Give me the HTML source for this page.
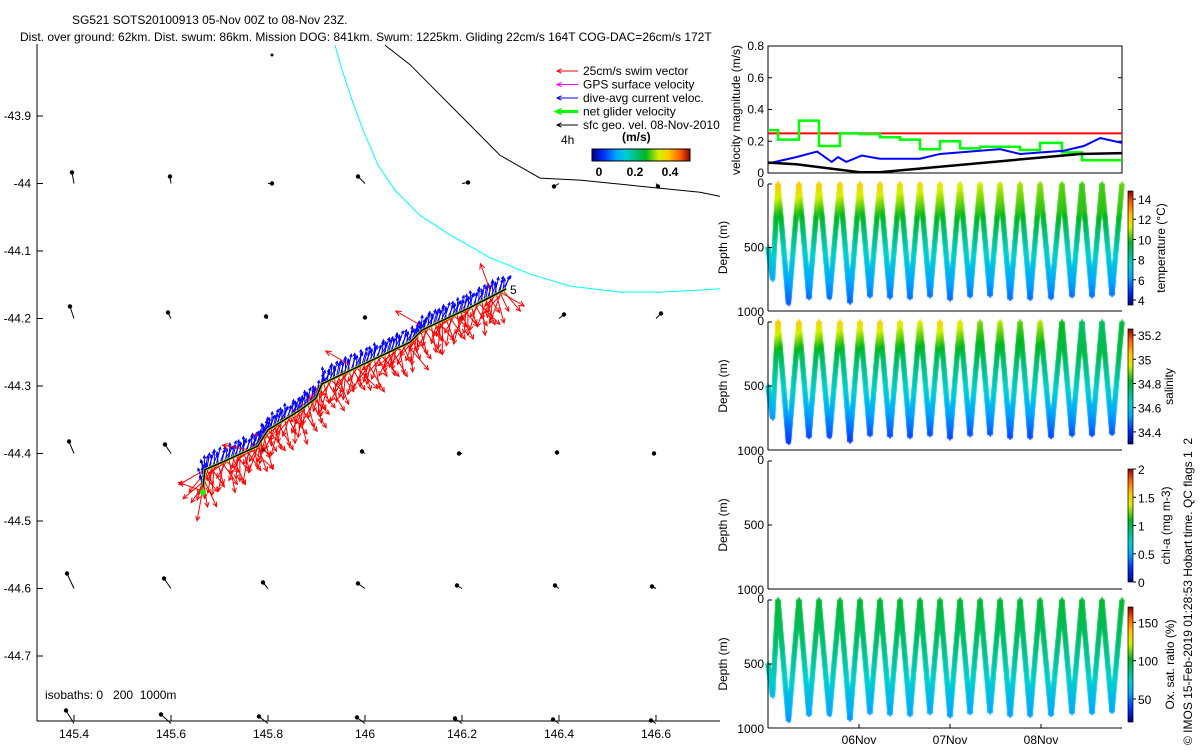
<!DOCTYPE html>
<html><head><meta charset="utf-8">
<style>
html,body{margin:0;padding:0;background:#fff;}
#root{position:relative;width:1200px;height:750px;overflow:hidden;font-family:"Liberation Sans",sans-serif;}
svg text{font-family:"Liberation Sans",sans-serif;white-space:pre;}
canvas{position:absolute;left:0;top:0;}
</style></head>
<body>
<div id="root">
<canvas id="cv" width="1200" height="750"></canvas>
<svg id="sv" width="1200" height="750" style="position:absolute;left:0;top:0"></svg>
</div>
<script>
// ---------- MAP DATA ----------
const lonTicks=[145.4,145.6,145.8,146,146.2,146.4,146.6];
const latTicks=[-43.9,-44,-44.1,-44.2,-44.3,-44.4,-44.5,-44.6,-44.7];
const trackLon=[145.666,145.670,145.705,145.779,145.800,145.866,145.899,145.911,145.990,146.093,146.118,146.216,146.278,146.291];
const trackLat=[-44.450,-44.424,-44.413,-44.389,-44.365,-44.336,-44.318,-44.297,-44.270,-44.235,-44.217,-44.184,-44.161,-44.156];
const swimAng=[100,95,90,95,100,95,90,95,100,95,90,95,100,95];
const curAng=[-95,-80,-75,-80,-75,-80,-70,-80,-75,-70,-75,-80,-75,-70];
const cyanLon=[145.938,145.953,145.973,145.996,146.027,146.062,146.113,146.175,146.258,146.340,146.423,146.526,146.608,146.691,146.732];
const cyanLat=[-43.795,-43.832,-43.876,-43.921,-43.973,-44.010,-44.047,-44.076,-44.110,-44.134,-44.152,-44.161,-44.161,-44.158,-44.156];
const isoLon=[146.041,146.093,146.144,146.216,146.278,146.361,146.443,146.567,146.691,146.732];
const isoLat=[-43.795,-43.824,-43.861,-43.913,-43.958,-43.992,-43.995,-44.004,-44.013,-44.019];
const gridLon=[145.4,145.6,145.8,146,146.2,146.4,146.6];
const gridLat=[-44,-44.2,-44.4,-44.6,-44.8];
const gridU=[[-0.02,-0.01,0.04,-0.07,0.06,-0.05,0.02],
             [-0.04,-0.03,-0.02,0,0,0.05,0.05],
             [-0.05,-0.06,-0.05,-0.03,-0.03,-0.02,-0.02],
             [-0.07,-0.07,-0.05,-0.07,-0.05,-0.04,-0.04],
             [-0.08,-0.10,-0.09,-0.08,-0.07,-0.06,-0.05]];
const gridV=[[0.11,0.07,0,0.07,0.01,-0.03,-0.03],
             [0.12,0.06,0.02,0.01,0,0.04,0.05],
             [0.12,0.09,0.04,0.02,0,0.01,0],
             [0.15,0.10,0.06,0.05,0.03,0.03,0.02],
             [0.13,0.09,0.07,0.06,0.05,0.04,0.03]];
// ---------- TIME SERIES DATA (days since 05-Nov 00Z) ----------
const redLevel=0.25;
const greenT=[0,0.11,0.34,0.56,0.79,1.01,1.23,1.45,1.67,1.89,2.11,2.33,2.77,2.99,3.23,3.45,3.89];
const greenV=[0.27,0.21,0.33,0.17,0.25,0.245,0.225,0.21,0.15,0.2,0.155,0.165,0.145,0.19,0.13,0.08];
const blueT=[0,0.31,0.54,0.70,0.77,0.86,1.03,1.23,1.67,1.89,2.55,2.77,3.25,3.47,3.65,3.89];
const blueV=[0.06,0.10,0.135,0.07,0.10,0.07,0.11,0.09,0.09,0.12,0.15,0.12,0.14,0.17,0.22,0.19];
const blackT=[0,0.31,1.01,1.23,3.43,3.89];
const blackV=[0.065,0.055,0.005,0.005,0.12,0.125];
const surfT=[0.11,0.34,0.56,0.79,1.01,1.23,1.45,1.67,1.89,2.11,2.33,2.55,2.77,2.99,3.23,3.45,3.67,3.89];
const troughD=[940,895,895,930,880,890,895,880,905,880,875,900,900,895,880,880,870];
const surfTemp=[12.4,12.3,12.2,12.1,12.1,12.0,11.8,11.7,11.6,11.4,11.2,11.1,10.9,10.7,10.4,10.2,10.2,10.4];
const surfSal=[35.05,35.03,35.02,35.01,35.0,35.02,34.98,34.96,35.02,34.98,34.9,34.93,34.88,34.93,34.83,34.75,34.75,34.8];
const dayTicks=[1,2,3];
const dayLabels=["06Nov","07Nov","08Nov"];

const NS="http://www.w3.org/2000/svg";
const sv=document.getElementById('sv');
function el(tag,attrs,parent){const e=document.createElementNS(NS,tag);for(const k in attrs)e.setAttribute(k,attrs[k]);(parent||sv).appendChild(e);return e;}
function txt(s,x,y,attrs,parent){const t=el('text',Object.assign({x:x,y:y,'font-size':12,fill:'#000'},attrs||{}),parent);t.textContent=s;return t;}

const mx=lon=>74+(lon-145.4)*485;
const my=lat=>116+(-43.9-lat)*675;
const map=el('g',{});


el('line',{x1:37,y1:44,x2:37,y2:721,stroke:'#000'},map);
el('line',{x1:37,y1:721,x2:720,y2:721,stroke:'#000'},map);
lonTicks.forEach(l=>{const x=mx(l);el('line',{x1:x,y1:721,x2:x,y2:715,stroke:'#000'},map);
  const t=txt(String(l),x,738,{'text-anchor':'middle'},map);});
latTicks.forEach(l=>{const y=my(l);el('line',{x1:37,y1:y,x2:43,y2:y,stroke:'#000'},map);
  const t=txt(String(l),31,y+4,{'text-anchor':'end'},map);});
function poly(lons,lats,stroke,w,name){const p=el('polyline',{points:lons.map((l,i)=>mx(l)+','+my(lats[i])).join(' '),fill:'none',stroke:stroke,'stroke-width':w},map);return p;}
poly(cyanLon,cyanLat,'#00ffff',1,'isobath-200m');
poly(isoLon,isoLat,'#000',1,'isobath-1000m');
function arrow(x1,y1,x2,y2,color,w,hs,parent){
  const g=el('g',{},parent);
  el('line',{x1:x1,y1:y1,x2:x2,y2:y2,stroke:color,'stroke-width':w},g);
  const a=Math.atan2(y2-y1,x2-x1);
  const p1=[x2-hs*Math.cos(a-0.45),y2-hs*Math.sin(a-0.45)],p2=[x2-hs*Math.cos(a+0.45),y2-hs*Math.sin(a+0.45)];
  el('polyline',{points:p1.join(',')+' '+x2+','+y2+' '+p2.join(','),fill:'none',stroke:color,'stroke-width':w},g);
  return g;}
gridLat.forEach((la,i)=>gridLon.forEach((lo,j)=>{
  const x=mx(lo),y=my(la),u=gridU[i][j]*100,v=gridV[i][j]*100;
  const g=el('g',{},map);
  
  
  el('line',{x1:x,y1:y,x2:x+u,y2:y-v,stroke:'#000','stroke-width':1},g);
  el('circle',{cx:x+u,cy:y-v,r:2.2,fill:'#000'},g);
}));
el('circle',{cx:272,cy:55,r:1.5,fill:'#000'},map);
const vecG=el('g',{},map);


const jit=[0,25,-20,40,-35,10,-50,30,-10,55,-25,15,-40,5];
let k=0;
const curG=el('g',{},vecG);
for(let i=0;i<trackLon.length-1;i++){
  const xa=mx(trackLon[i]),ya=my(trackLat[i]),xb=mx(trackLon[i+1]),yb=my(trackLat[i+1]);
  const n=Math.max(4,Math.round(Math.hypot(xb-xa,yb-ya)/2));
  for(let s=0;s<n;s++){const f=s/n,x=xa+(xb-xa)*f,y=ya+(yb-ya)*f;
    const sa=(swimAng[i]+jit[k%jit.length])*Math.PI/180;
    const L=(k%11==0)?34:(18+(k%5)*3);
    arrow(x,y,x+L*Math.cos(sa),y+L*Math.sin(sa),'#ff0000',1,5,vecG);
    const ca=(curAng[i]+jit[(k+4)%jit.length]*0.3)*Math.PI/180;
    const cl=12+(k%4)*2;
    arrow(x,y,x+cl*Math.cos(ca),y+cl*Math.sin(ca),'#0000ff',1,3,curG);
    k++;
  }}
vecG.appendChild(curG);
[[205,492,-160],[250,450,-170],[350,365,-150],[420,325,-150],[490,290,-110],[500,292,30]].forEach(v=>{const a=v[2]*Math.PI/180;arrow(v[0],v[1],v[0]+28*Math.cos(a),v[1]+28*Math.sin(a),'#ff0000',1,6,vecG);});
poly(trackLon,trackLat,'#b0e000',3,'track-line-colored');
poly(trackLon,trackLat,'#000',1.5,'track-line');
el('circle',{cx:mx(trackLon[0]),cy:my(trackLat[0])+5,r:3,fill:'#00ff00'},map);
txt('5',510,294,{},map);
txt('isobaths: 0   200  1000m',45,699,{},map);
const t1=txt('SG521 SOTS20100913 05-Nov 00Z to 08-Nov 23Z.',72,24,{});
const t2=txt('Dist. over ground: 62km. Dist. swum: 86km. Mission DOG: 841km. Swum: 1225km. Gliding 22cm/s 164T COG-DAC=26cm/s 172T',20,41,{});
const lg=el('g',{});
const legItems=[['25cm/s swim vector','#ff0000',1],['GPS surface velocity','#ff00ff',1],['dive-avg current veloc.','#0000ff',1],['net glider velocity','#00ff00',3],['sfc geo. vel. 08-Nov-2010','#000',1]];
legItems.forEach((it,i)=>{const y=71+i*13.5;arrow(578,y,557,y,it[1],it[2],5,lg);const t=txt(it[0],583,y+4,{},lg);});
txt('4h',561,144,{},lg);
txt('(m/s)',622,141,{'font-weight':'bold'},lg);
const defs=el('defs',{});
const grd=el('linearGradient',{id:'jet',x1:0,y1:0,x2:1,y2:0},defs);
const stops=[[0,'#00008a'],[0.12,'#0030ff'],[0.25,'#00a8ff'],[0.35,'#00d0d0'],[0.45,'#00c080'],[0.55,'#00b820'],[0.68,'#d8f000'],[0.78,'#ffc800'],[0.9,'#ff6000'],[1,'#900000']];
stops.forEach(s=>el('stop',{offset:s[0],'stop-color':s[1]},grd));
const grdV=el('linearGradient',{id:'jetv',x1:0,y1:1,x2:0,y2:0},defs);
stops.forEach(s=>el('stop',{offset:s[0],'stop-color':s[1]},grdV));
el('rect',{x:592,y:149,width:98,height:12,fill:'url(#jet)',stroke:'#000'},lg);
txt('0',599,176,{'font-weight':'bold','text-anchor':'middle'},lg);
txt('0.2',635,176,{'font-weight':'bold','text-anchor':'middle'},lg);
txt('0.4',670,176,{'font-weight':'bold','text-anchor':'middle'},lg);

const X0=768,X1=1122,DAYS=3.89;
const tx=d=>X0+d*(X1-X0)/DAYS;
const vy=v=>173-v*158.75;
const vp=el('g',{});
el('rect',{x:X0,y:46,width:X1-X0,height:127,fill:'none',stroke:'#000'},vp);
[0,0.2,0.4,0.6,0.8].forEach(v=>{const y=vy(v);el('line',{x1:X0,y1:y,x2:X0+4,y2:y,stroke:'#000'},vp);el('line',{x1:X1,y1:y,x2:X1-4,y2:y,stroke:'#000'},vp);txt(String(v),764,y+4,{'text-anchor':'end'},vp);});
const vl=txt('velocity magnitude (m/s)',0,0,{'text-anchor':'middle',transform:'translate(740,110) rotate(-90)'},vp);
el('line',{x1:X0,y1:vy(redLevel),x2:X1,y2:vy(redLevel),stroke:'#ff0000','stroke-width':2},vp);
let gp=[];greenV.forEach((v,i)=>{gp.push(tx(greenT[i])+','+vy(v));gp.push(tx(greenT[i+1])+','+vy(v));});
el('polyline',{points:gp.join(' '),fill:'none',stroke:'#00ff00','stroke-width':2.5},vp);
el('polyline',{points:blueT.map((t,i)=>tx(t)+','+vy(blueV[i])).join(' '),fill:'none',stroke:'#0000ff','stroke-width':2},vp);
el('polyline',{points:blackT.map((t,i)=>tx(t)+','+vy(blackV[i])).join(' '),fill:'none',stroke:'#000','stroke-width':2.5},vp);

const panels=[{y0:184,y1:311,name:'temperature-panel',cb:[3.5,14.8],ticks:[4,6,8,10,12,14],label:'temperature (°C)',cby:[191,305],lx:1165},
 {y0:322,y1:450,name:'salinity-panel',cb:[34.3,35.25],ticks:[34.4,34.6,34.8,35,35.2],label:'salinity',cby:[329,444],lx:1173},
 {y0:461,y1:589,name:'chlorophyll-panel',cb:[0,2],ticks:[0,0.5,1,1.5,2],label:'chl-a (mg m-3)',cby:[469,582],lx:1170},
 {y0:600,y1:728,name:'oxygen-panel',cb:[20,170],ticks:[50,100,150],label:'Ox. sat. ratio (%)',cby:[607,722],lx:1174}];
panels.forEach(p=>{const g=el('g',{});
  el('line',{x1:X0,y1:p.y0,x2:X0,y2:p.y1,stroke:'#000'},g);el('line',{x1:X0,y1:p.y1,x2:X1,y2:p.y1,stroke:'#000'},g);
  [0,500,1000].forEach(d=>{const y=p.y0+d/1000*(p.y1-p.y0);el('line',{x1:X0,y1:y,x2:X0+4,y2:y,stroke:'#000'},g);txt(String(d),764,y+(d==0?3:d==1000?5:4),{'text-anchor':'end'},g);});
  txt('Depth (m)',0,0,{'text-anchor':'middle',transform:'translate(727,'+((p.y0+p.y1)/2)+') rotate(-90)'},g);
  el('rect',{x:1128,y:p.cby[0],width:5,height:p.cby[1]-p.cby[0],fill:'url(#jetv)',stroke:'#000','stroke-width':0.7},g);
  p.ticks.forEach(v=>{const y=p.cby[1]-(v-p.cb[0])/(p.cb[1]-p.cb[0])*(p.cby[1]-p.cby[0]);el('line',{x1:1133,y1:y,x2:1136,y2:y,stroke:'#000'},g);txt(String(v),1138,y+5,{},g);});
  txt(p.label,0,0,{'text-anchor':'middle',transform:'translate('+p.lx+','+((p.cby[0]+p.cby[1])/2)+') rotate(-90)'},g);
});
dayTicks.forEach((d,i)=>{const x=tx(d);el('line',{x1:x,y1:728,x2:x,y2:724,stroke:'#000'});const t=txt(dayLabels[i],x,744,{'text-anchor':'middle'});});
const cr=txt('© IMOS 15-Feb-2019 01:28:53 Hobart time. QC flags 1  2',0,0,{'text-anchor':'start',transform:'translate(1192,745) rotate(-90)'});

const cx=document.getElementById('cv').getContext('2d');
function hex(h){return[parseInt(h.substr(1,2),16),parseInt(h.substr(3,2),16),parseInt(h.substr(5,2),16)];}
function cmap(f){f=Math.max(0,Math.min(1,f));for(let i=1;i<stops.length;i++){if(f<=stops[i][0]){const a=hex(stops[i-1][1]),b=hex(stops[i][1]),u=(f-stops[i-1][0])/(stops[i][0]-stops[i-1][0]);return'rgb('+a.map((c,j)=>Math.round(c+(b[j]-c)*u)).join(',')+')';}}return stops[stops.length-1][1];}
function temp(d,s){return d<220?s-(s-10)*d/220:d<550?10-(d-220)*2.5/330:7.5-(d-550)*2.2/400;}
function sal(d,s){return d<250?s-(s-34.78)*d/250:34.78-(d-250)*0.36/680;}
function oxy(d){return d<350?100-d*0.03:89-(d-350)*0.06;}
function drawPanel(p,fn){
  const path=[[tx(0),500,-1],[tx(0.05),750,-1]];
  for(let i=0;i<surfT.length;i++){path.push([tx(surfT[i]),0,i]);if(i<troughD.length)path.push([tx((surfT[i]+surfT[i+1])/2),troughD[i],i]);}
  for(let j=0;j<path.length-1;j++){const a=path[j],b=path[j+1];
    const idx=Math.max(0,a[1]===0?a[2]:b[2]);
    const n=Math.ceil(Math.abs(b[1]-a[1])/6);
    for(let s=0;s<=n;s++){const f=s/n,x=a[0]+(b[0]-a[0])*f,d=a[1]+(b[1]-a[1])*f;
      const y=p.y0+d/1000*(p.y1-p.y0);
      cx.fillStyle=cmap(fn(d,idx));
      cx.fillRect(x-2.5,y-0.5,5,1.5);cx.fillRect(x-0.5,y-2.5,1.5,5);}}}
drawPanel(panels[0],(d,i)=>(temp(d,surfTemp[i])-3.5)/11.3);
drawPanel(panels[1],(d,i)=>(sal(d,surfSal[i])-34.3)/0.95);
drawPanel(panels[3],(d,i)=>(oxy(d)-20)/150);
</script>
</body></html>
